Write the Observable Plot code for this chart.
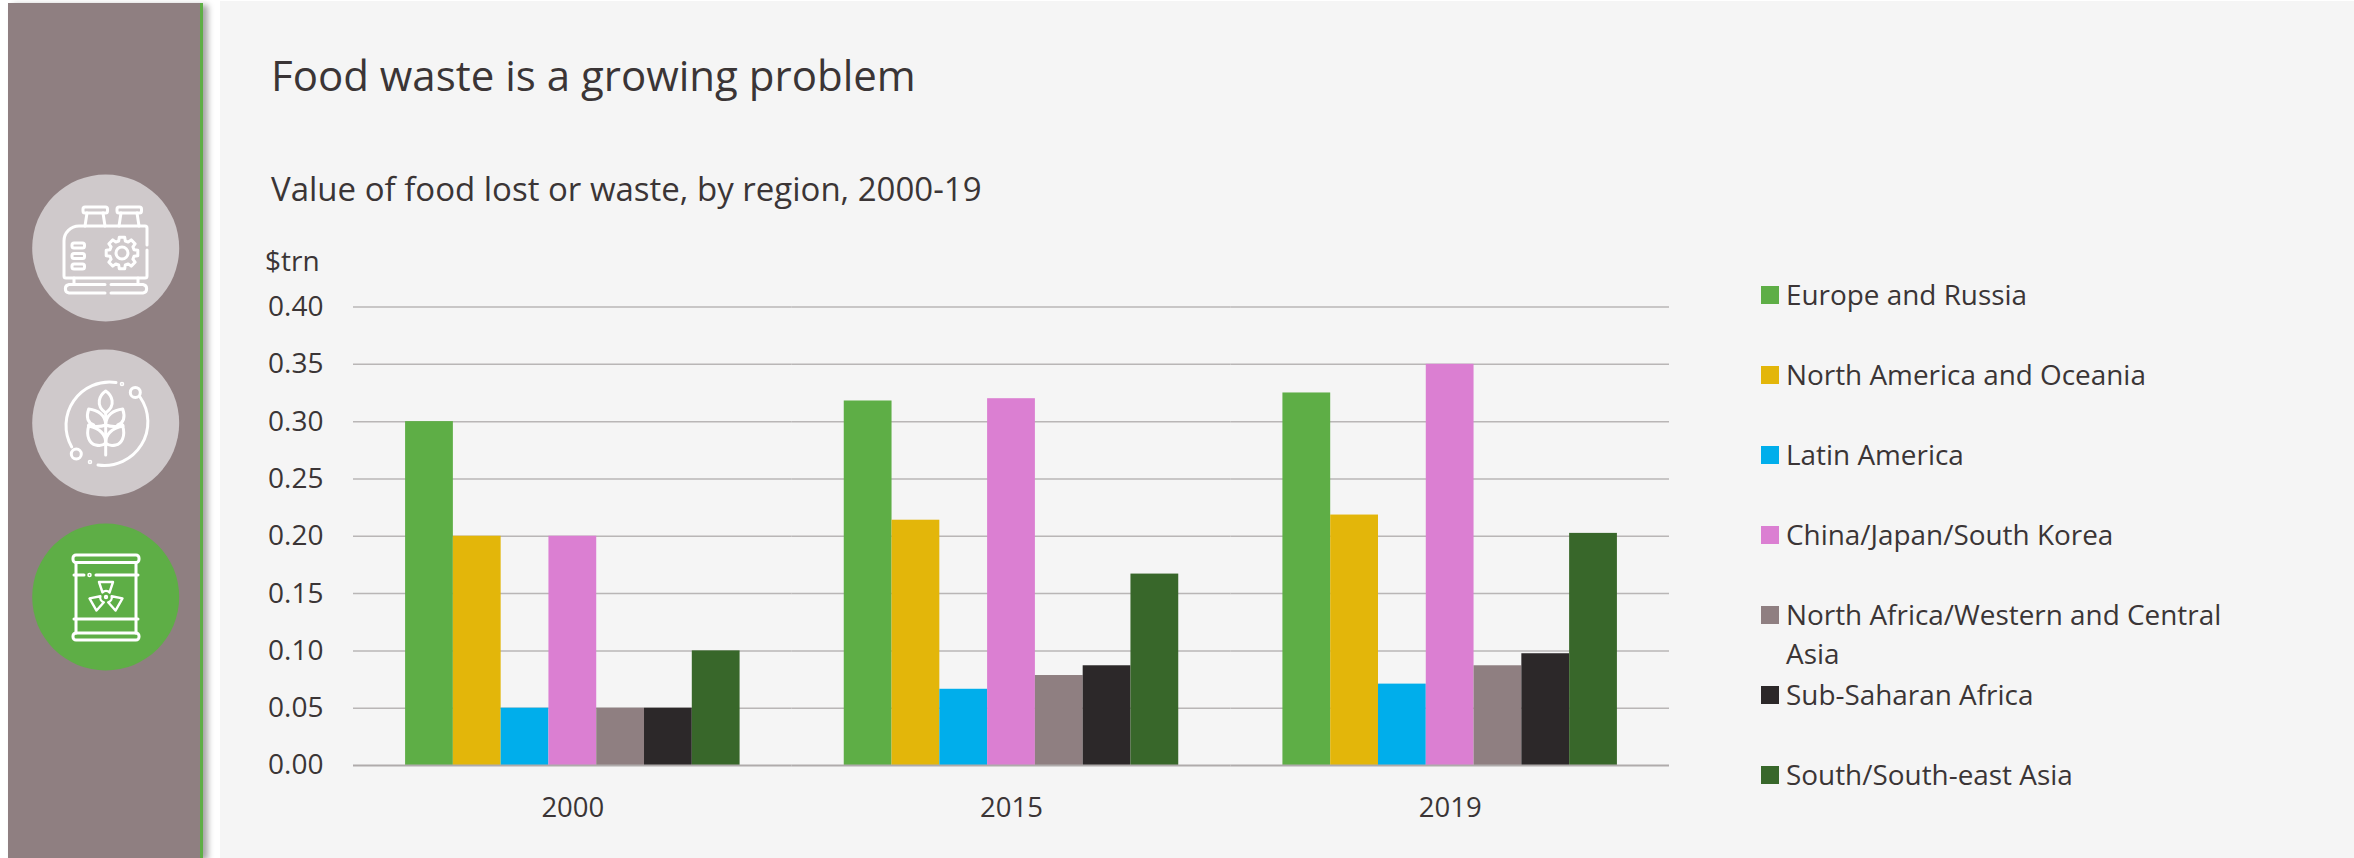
<!DOCTYPE html>
<html><head><meta charset="utf-8">
<script src="https://cdn.jsdelivr.net/npm/d3@7"></script>
<script src="https://cdn.jsdelivr.net/npm/@observablehq/plot@0.6"></script>
<style>
html,body{margin:0;padding:0;background:#fff;width:2354px;height:858px;overflow:hidden;font-family:"Open Sans",sans-serif;color:#3b3536}
#side{position:absolute;left:8px;top:3px;width:192px;height:855px;background:#8f7f81;border-right:3px solid #5eae46;box-shadow:5px 2px 6px rgba(0,0,0,.35)}
#panel{position:absolute;left:220px;top:1px;width:2134px;height:857px;background:#f5f5f5}
.t{position:absolute;white-space:nowrap}
#title{left:271px;top:47px;font-size:42px;line-height:56px}
#sub{left:271px;top:167px;font-size:33px;line-height:44px}
#unit{left:265px;top:241px;font-size:28px;line-height:38px}
#chart{position:absolute;left:0;top:0}
#legend .sw{position:absolute;left:1761px;width:18px;height:18px}
#legend .lb{position:absolute;left:1786px;font-size:27.9px;line-height:39px;white-space:nowrap}
#icons{position:absolute;left:0;top:0}
</style></head><body>
<div id="side"></div><div id="panel"></div>
<svg id="icons" width="220" height="858" fill="none" stroke="#fff" stroke-width="3" stroke-linecap="round" stroke-linejoin="round">
 <circle cx="105.7" cy="248" r="73.5" fill="#cfc9cb" stroke="none"/>
 <circle cx="105.7" cy="423" r="73.5" fill="#cfc9cb" stroke="none"/>
 <circle cx="105.7" cy="597" r="73.5" fill="#5eae46" stroke="none"/>
 <!-- generator -->
 <rect x="83" y="207" width="24.5" height="6" rx="2"/><rect x="117" y="207" width="24.5" height="6" rx="2"/>
 <path d="M87 213l-2 13M103 213l2 13M121 213l-2 13M137 213l2 13"/>
 <path d="M147 245V228a2 2 0 0 0-2-2H79a15 15 0 0 0-15 15v35a2 2 0 0 0 2 2h79a2 2 0 0 0 2-2V250"/>
 <rect x="72" y="243" width="12.5" height="5" rx="2"/><rect x="72" y="253.5" width="12.5" height="5" rx="2"/><rect x="72" y="264" width="12.5" height="5" rx="2"/>
 <circle cx="122" cy="253" r="6"/>
 <path id="gear" transform="translate(122 253)"/>
 <path d="M74 278v6M138 278v6"/>
 <path d="M105 284.500H69a4.300 4.300 0 0 0 0 8.500h36M111 284.500h32a4.300 4.300 0 0 1 0 8.500h-32"/>
 <!-- wheat -->
 <path d="M116 382.500A43.500 43.500 0 0 0 71.700 447"/><path d="M140 397A43.500 43.500 0 0 1 98 465"/>
 <circle cx="135.300" cy="392.400" r="5"/><circle cx="76.300" cy="454" r="5"/>
 <circle cx="122" cy="384" r=".8"/><circle cx="90" cy="462" r=".8"/>
 <path d="M105.700 455V413"/>
 <path d="M105.700 413c-11-8-6-18 0-22 6 4 11 14 0 22z"/>
 <g id="leaves">
  <path d="M105.700 425c0-10-8-15-17-16-3 9 0 14 5 16-5 1-6 2-5 0 4 2 12 2 17 0z"/>
  <path d="M105.700 425c0-10 8-15 17-16 3 9 0 14-5 16 5 1 6 2 5 0-4 2-12 2-17 0z"/>
  <path d="M105.700 443c0-10-8-15-17-17-3 10 1 18 7 19 4 1 8 0 10-2z"/>
  <path d="M105.700 443c0-10 8-15 17-17 3 10-1 18-7 19-4 1-8 0-10-2z"/>
 </g>
 <!-- barrel -->
 <rect x="73" y="555" width="66" height="7.500" rx="3"/><rect x="73" y="633" width="66" height="7" rx="3"/>
 <path d="M76 562.500V633M136 562.500V633M74 575H84M96 575H138M74 619H138"/>
 <circle cx="89.500" cy="575" r=".8"/>
 <g transform="translate(106 597)" stroke-width="2.400">
  <path id="blade" d="M-7 -15H7L3.500 -4.500A5 5 0 0 0 -3.500 -4.500Z"/>
  <path d="M-7 -15H7L3.500 -4.500A5 5 0 0 0 -3.500 -4.500Z" transform="rotate(120)"/>
  <path d="M-7 -15H7L3.500 -4.500A5 5 0 0 0 -3.500 -4.500Z" transform="rotate(240)"/>
  <circle r="1"/>
 </g>
</svg>
<div class="t" id="title">Food waste is a growing problem</div>
<div class="t" id="sub">Value of food lost or waste, by region, 2000-19</div>
<div class="t" id="unit">$trn</div>
<div id="chart"></div>
<div id="legend"></div>
<script>
const years = ["2000","2015","2019"];
const regions = ["Europe and Russia","North America and Oceania","Latin America","China/Japan/South Korea","North Africa/Western and Central Asia","Sub-Saharan Africa","South/South-east Asia"];
const colors = ["#5eae46","#e3b60a","#00aeeb","#db7fd2","#8f7f81","#2c2829","#38672a"];
const europe = [0.30,0.318,0.325];
const northAmerica = [0.20,0.214,0.2185];
const latinAmerica = [0.05,0.0665,0.071];
const eastAsia = [0.20,0.32,0.35];
const northAfrica = [0.05,0.0785,0.087];
const subSahara = [0.05,0.087,0.0975];
const southAsia = [0.10,0.167,0.2025];
const series = [europe,northAmerica,latinAmerica,eastAsia,northAfrica,subSahara,southAsia];
const yTicks = [0,0.05,0.10,0.15,0.20,0.25,0.30,0.35,0.40];
const data = years.flatMap((year,i)=>regions.map((region,j)=>({year,region,value:series[j][i]})));

const chart = Plot.plot({
  width:2354,height:858,marginLeft:353,marginRight:685,marginTop:306.500,marginBottom:93,
  style:{background:"transparent",fontFamily:'"Open Sans",sans-serif',color:"#3b3536",overflow:"visible"},
  fx:{domain:years,paddingInner:0,paddingOuter:0,round:false,label:null,axis:null},
  x:{domain:regions,paddingInner:0,paddingOuter:1.09,round:false,axis:null},
  y:{domain:[0,0.4],ticks:yTicks,label:null,axis:null},
  color:{domain:regions,range:colors},
  marks:[
    Plot.ruleY(yTicks.slice(1),{stroke:"#b9b6b6",strokeWidth:1.5}),
    Plot.barY(data,{fx:"year",x:"region",y:"value",fill:"region"}),
    Plot.ruleY([0],{stroke:"#afabab",strokeWidth:2}),
    Plot.axisY({ticks:yTicks,tickFormat:d3.format(".2f"),tickSize:0,tickPadding:30,fontSize:28,label:null,anchor:"left"}),
    Plot.axisFx({domain:years,tickSize:0,tickPadding:32,fontSize:27.500,label:null,anchor:"bottom"})
  ]
});
document.getElementById("chart").append(chart);

const legendY = [295,375,455,535,615,695,775];
const lg = document.getElementById("legend");
regions.forEach((r,i)=>{
  const s=document.createElement("div");s.className="sw";s.style.top=(legendY[i]-9)+"px";s.style.background=colors[i];lg.append(s);
  const l=document.createElement("div");l.className="lb";l.style.top=(legendY[i]-20)+"px";
  l.innerHTML = i===4 ? "North Africa/Western and Central<br>Asia" : r;lg.append(l);
});

// decorative gear outline for the sidebar icon
const teeth = 8, gearPts = [];
for (let k=0;k<teeth;k++){
  const a=k/teeth*2*Math.PI;
  for (const [da,r] of [[-.27,12.500],[-.17,16],[.17,16],[.27,12.500]]) {
    const t=a+da; gearPts.push((r*Math.cos(t)).toFixed(1)+" "+(r*Math.sin(t)).toFixed(1));
  }
}
document.getElementById("gear").setAttribute("d","M"+gearPts.join("L")+"Z");
</script></body></html>
